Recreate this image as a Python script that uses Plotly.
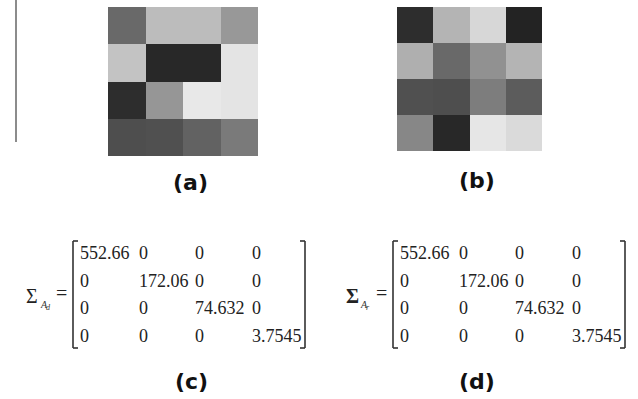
import plotly.graph_objects as go

W, H = 638, 399

# Gray levels (0 = black, 255 = white), rows top to bottom
image_a = [
    [105, 188, 188, 152],
    [195, 40, 40, 228],
    [45, 150, 232, 228],
    [78, 80, 98, 122],
]
image_b = [
    [45, 180, 215, 35],
    [175, 105, 145, 180],
    [80, 78, 125, 92],
    [135, 40, 230, 218],
]
# Singular values (diagonal entries of the Sigma matrices)
sigma_d = ["552.66", "172.06", "74.632", "3.7545"]
sigma_r = ["552.66", "172.06", "74.632", "3.7545"]
panel_labels = ["(a)", "(b)", "(c)", "(d)"]

gray = [[0, "rgb(0,0,0)"], [1, "rgb(255,255,255)"]]

fig = go.Figure()
fig.add_trace(go.Heatmap(z=image_a, colorscale=gray, zmin=0, zmax=255,
                         showscale=False, xaxis="x", yaxis="y", hoverinfo="skip"))
fig.add_trace(go.Heatmap(z=image_b, colorscale=gray, zmin=0, zmax=255,
                         showscale=False, xaxis="x2", yaxis="y2", hoverinfo="skip"))


def px(x):
    return x / W


def py(y):
    return 1 - y / H


ax_common = dict(visible=False, showgrid=False, zeroline=False, fixedrange=True)
fig.update_layout(
    width=W, height=H, autosize=False,
    margin=dict(l=0, r=0, t=0, b=0),
    paper_bgcolor="white", plot_bgcolor="white",
    xaxis=dict(domain=[px(108), px(258)], anchor="y", **ax_common),
    yaxis=dict(domain=[py(156), py(7)], anchor="x", autorange="reversed", **ax_common),
    xaxis2=dict(domain=[px(397), px(542)], anchor="y2", **ax_common),
    yaxis2=dict(domain=[py(151), py(7)], anchor="x2", autorange="reversed", **ax_common),
    showlegend=False,
)

shapes = []
annotations = []

# thin vertical rule at left
shapes.append(dict(type="line", xref="paper", yref="paper", x0=px(16), x1=px(16),
                   y0=py(0), y1=py(142), line=dict(color="#666666", width=1.5)))

mat_font = dict(family="Liberation Serif", size=18, color="#222222")
row_y = [253, 281, 308, 336]
col_x = [78, 137, 193, 250]


def add_matrix(offset, diag, sub, bold_sigma):
    n = len(diag)
    for i in range(n):
        for j in range(n):
            txt = diag[i] if i == j else "0"
            annotations.append(dict(xref="paper", yref="paper", x=px(col_x[j] + offset),
                                    y=py(row_y[i]), text=txt, showarrow=False,
                                    xanchor="left", yanchor="middle", font=mat_font))
    # brackets
    lx = 73 + offset
    rx = 305 + offset
    top, bot = 241, 348
    c = "#333333"
    for seg in [(lx, top, lx, bot), (lx, top, lx + 5, top), (lx, bot, lx + 5, bot),
                (rx, top, rx, bot), (rx - 5, top, rx, top), (rx - 5, bot, rx, bot)]:
        shapes.append(dict(type="line", xref="paper", yref="paper",
                           x0=px(seg[0]), y0=py(seg[1]), x1=px(seg[2]), y1=py(seg[3]),
                           line=dict(color=c, width=1.6)))
    sig = "<b>Σ</b>" if bold_sigma else "Σ"
    annotations.append(dict(xref="paper", yref="paper", x=px(24 + offset), y=py(296),
                            text=sig, showarrow=False, xanchor="left", yanchor="middle",
                            font=dict(family="Liberation Serif", size=20, color="#222222")))
    annotations.append(dict(xref="paper", yref="paper", x=px(38 + offset), y=py(304),
                            text="<i>A</i>", showarrow=False, xanchor="left", yanchor="middle",
                            font=dict(family="Liberation Serif", size=10, color="#333333")))
    annotations.append(dict(xref="paper", yref="paper", x=px(44 + offset), y=py(307),
                            text="<i>" + sub + "</i>", showarrow=False, xanchor="left",
                            yanchor="middle",
                            font=dict(family="Liberation Serif", size=8, color="#333333")))
    annotations.append(dict(xref="paper", yref="paper", x=px(54 + offset), y=py(293),
                            text="=", showarrow=False, xanchor="left", yanchor="middle",
                            font=dict(family="Liberation Serif", size=20, color="#222222")))


add_matrix(0, sigma_d, "d", False)
add_matrix(320, sigma_r, "r", True)

label_pos = [(190, 182), (477, 181), (191, 381), (477, 381)]
for lab, (lxp, lyp) in zip(panel_labels, label_pos):
    annotations.append(dict(xref="paper", yref="paper", x=px(lxp), y=py(lyp), text="<b>" + lab + "</b>",
                            showarrow=False, xanchor="center", yanchor="middle",
                            font=dict(family="DejaVu Sans", size=22, color="#111111")))

fig.update_layout(shapes=shapes, annotations=annotations)
fig.write_html("out.html", config={"displayModeBar": False, "staticPlot": True},
               post_script="document.body.style.margin='0';document.body.style.overflow='hidden';")
